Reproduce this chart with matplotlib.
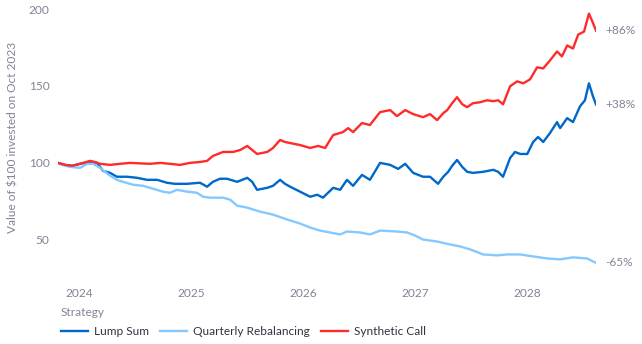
import matplotlib
matplotlib.use("Agg")
import matplotlib.pyplot as plt
import matplotlib.dates as mdates
from matplotlib.lines import Line2D
import pandas as pd

# ---- data: value of $100 invested on Oct 2023, by strategy ----
start_date = "2023-10-25"

lump_days = [0, 23, 46, 72, 104, 127, 147, 170, 192, 225, 258, 290, 323, 355, 381, 421,
             463, 486, 505, 528, 551, 584, 617, 633, 649, 682, 701, 724, 740, 757, 789,
             822, 845, 864, 897, 920, 942, 962, 991, 1017, 1050, 1083, 1109, 1132, 1158,
             1190, 1213, 1239, 1256, 1272, 1285, 1301, 1318, 1334, 1353, 1386, 1419, 1435,
             1451, 1474, 1490, 1507, 1530, 1549, 1565, 1582, 1604, 1627, 1637, 1660, 1679,
             1702, 1718, 1731, 1744, 1754]
lump_vals = [100.0, 98.7, 98.1, 99.4, 100.6, 100.0, 94.8, 93.5, 91.0, 91.0, 90.3, 89.0, 89.0,
             87.1, 86.4, 86.4, 87.1, 84.5, 87.7, 89.7, 89.7, 87.7, 90.3, 87.7, 82.5, 83.8,
             85.1, 89.0, 86.4, 84.5, 81.3, 78.0, 79.3, 77.4, 83.8, 82.5, 89.0, 85.1, 92.2,
             89.0, 100.0, 98.7, 96.1, 99.4, 93.5, 91.0, 91.0, 86.4, 91.0, 94.2, 98.1, 101.9,
             97.4, 94.2, 93.5, 94.2, 95.5, 94.2, 91.0, 103.2, 107.1, 105.8, 105.8, 113.6,
             116.8, 113.6, 119.4, 126.5, 122.6, 129.1, 126.5, 136.8, 140.7, 151.7, 143.3,
             138.0]

quarterly_days = [0, 13, 39, 72, 95, 114, 137, 170, 192, 212, 245, 277, 300, 342, 365, 388,
                  421, 453, 473, 496, 538, 561, 584, 617, 659, 701, 747, 789, 822, 854, 887,
                  920, 942, 985, 1017, 1050, 1105, 1138, 1164, 1190, 1236, 1278, 1311, 1344,
                  1386, 1432, 1464, 1507, 1549, 1595, 1637, 1679, 1725, 1754]
quarterly_vals = [100.0, 98.7, 97.4, 96.8, 99.4, 99.4, 96.8, 91.6, 89.0, 87.7, 85.8, 85.1,
                  83.8, 81.3, 80.6, 82.5, 81.3, 80.6, 78.0, 77.4, 77.4, 76.1, 72.2, 70.9,
                  68.3, 66.4, 63.2, 60.6, 58.0, 56.0, 54.8, 53.5, 55.4, 54.8, 53.5, 56.0,
                  55.4, 54.8, 52.8, 50.2, 48.9, 47.0, 45.7, 43.8, 40.5, 39.9, 40.5, 40.5,
                  39.2, 37.9, 37.3, 38.6, 37.9, 35.0]

synthetic_days = [0, 23, 46, 72, 104, 121, 137, 170, 202, 235, 267, 300, 333, 365, 398, 430,
                  463, 486, 505, 538, 571, 594, 617, 633, 649, 682, 701, 724, 740, 757, 789,
                  822, 848, 871, 897, 929, 946, 962, 991, 1017, 1050, 1083, 1105, 1132, 1158,
                  1190, 1213, 1236, 1256, 1269, 1285, 1301, 1318, 1334, 1353, 1376, 1399,
                  1419, 1435, 1451, 1474, 1497, 1517, 1539, 1562, 1582, 1604, 1627, 1643,
                  1660, 1679, 1696, 1715, 1731, 1741, 1754]
synthetic_vals = [100.0, 98.7, 98.1, 99.4, 101.3, 100.6, 99.4, 98.7, 99.4, 100.0, 99.7, 99.4,
                  100.0, 99.4, 98.7, 100.0, 100.6, 101.3, 104.5, 107.1, 107.1, 108.4, 111.0,
                  108.4, 105.8, 107.1, 109.7, 114.9, 113.6, 112.9, 111.6, 109.7, 111.0, 109.7,
                  118.1, 120.0, 122.6, 120.0, 125.9, 124.6, 133.0, 134.3, 130.4, 134.3, 131.7,
                  129.7, 131.7, 127.8, 132.3, 134.3, 138.8, 142.7, 138.1, 136.2, 138.8, 139.4,
                  140.7, 140.1, 140.7, 138.1, 149.8, 153.0, 151.7, 154.3, 162.1, 161.4, 166.6,
                  172.4, 169.2, 176.3, 174.3, 183.4, 185.3, 197.0, 192.4, 186.0]

strategies = ["Lump Sum", "Quarterly Rebalancing", "Synthetic Call"]
end_labels = ["+38%", "-65%", "+86%"]
colors = ["#0068c9", "#83c9ff", "#ff2b2b"]
y_ticks = [50, 100, 150, 200]

series = [(lump_days, lump_vals), (quarterly_days, quarterly_vals),
          (synthetic_days, synthetic_vals)]

plt.rcParams["font.family"] = ["Lato", "DejaVu Sans"]
TICK_GRAY = "#808495"
TEXT_DARK = "#31333f"

W, H = 642, 344
fig = plt.figure(figsize=(W / 100, H / 100), dpi=100)
ax = fig.add_axes([58 / W, (H - 286) / H, (596 - 58) / W, (286 - 9) / H])

t0 = pd.Timestamp(start_date)
last_date = None
for (days, vals), name, color, lab in zip(series, strategies, colors, end_labels):
    dates = t0 + pd.to_timedelta(days, unit="D")
    ax.plot(dates, vals, color=color, lw=1.7, solid_joinstyle="round", label=name)
    ax.annotate(lab, xy=(dates[-1], vals[-1]), xytext=(7, 0), textcoords="offset points",
                va="center", ha="left", fontsize=8.6, color=TICK_GRAY)
    last_date = dates[-1]

ax.set_xlim(t0, last_date)
ax.set_ylim(20, 200)
ax.set_yticks(y_ticks)
ax.xaxis.set_major_locator(mdates.YearLocator())
ax.xaxis.set_major_formatter(mdates.DateFormatter("%Y"))
ax.tick_params(axis="both", length=0, labelsize=8.6, labelcolor=TICK_GRAY)
ax.tick_params(axis="y", pad=6)
ax.tick_params(axis="x", pad=1.5)
for s in ax.spines.values():
    s.set_visible(False)
ax.patch.set_alpha(0)

fig.text(13 / W, 1 - 137 / H, "Value of $100 invested on Oct 2023", rotation=90,
         ha="center", va="center", fontsize=8.6, color=TICK_GRAY)

handles = [Line2D([], [], color=c, lw=1.7) for c in colors]
leg = fig.legend(handles, strategies, title="Strategy", loc="upper left",
                 bbox_to_anchor=(61 / W, 1 - 307 / H), ncol=3, frameon=False,
                 fontsize=8.6, title_fontsize=8.6, handlelength=2.25,
                 handletextpad=0.5, columnspacing=0.95, borderpad=0,
                 borderaxespad=0, alignment="left", labelspacing=0.3)
leg._legend_box.sep = 6
leg.get_title().set_color(TICK_GRAY)
for t in leg.get_texts():
    t.set_color(TEXT_DARK)

fig.savefig("out.png", dpi=100)
